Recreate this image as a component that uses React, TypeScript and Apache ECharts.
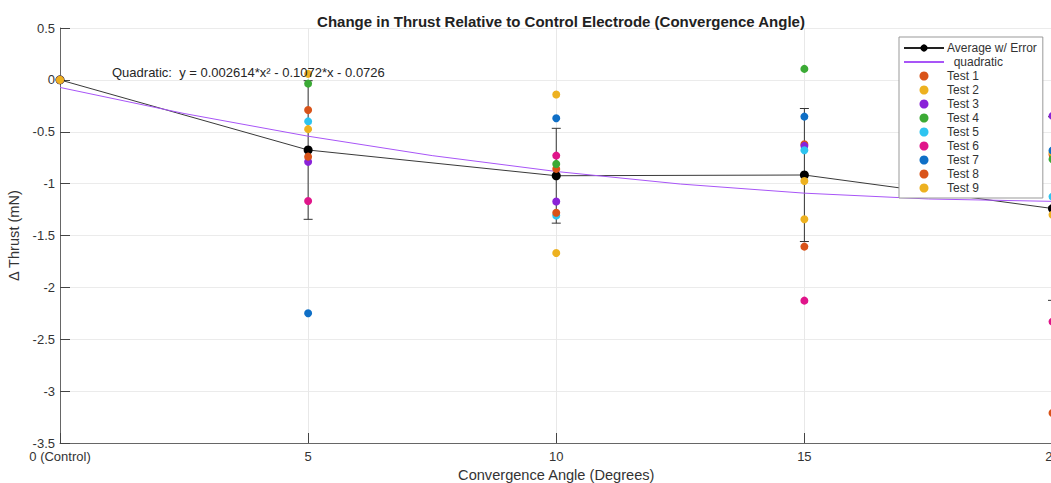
import React, { useEffect, useRef } from "react";
import * as echarts from "echarts";

const angles = [0, 5, 10, 15, 20];
const tickLabels: Record<number, string> = { 0: "0 (Control)", 5: "5", 10: "10", 15: "15", 20: "20" };

const averageValues = [0, -0.676, -0.924, -0.917, -1.24];
const errorValues = [0, 0.668, 0.457, 0.641, 0.885];

// quadratic fit curve
const fitAngles = [0, 2.5, 5, 7.5, 10, 12.5, 15, 17.5, 20];
const fitValues = [-0.073, -0.324, -0.543, -0.730, -0.883, -1.004, -1.092, -1.148, -1.171];

const test1 = [0, -0.29, -0.858, -0.62, -0.72];
const test2 = [0, 0.058, -0.141, -0.974, -0.70];
const test3 = [0, -0.79, -1.173, -0.636, -0.347];
const test4 = [0, -0.036, -0.81, 0.106, -0.765];
const test5 = [0, -0.40, -1.308, -0.678, -1.125];
const test6 = [0, -1.167, -0.73, -2.128, -2.33];
const test7 = [0, -2.25, -0.37, -0.354, -0.68];
const test8 = [0, -0.74, -1.28, -1.607, -3.21];
const test9 = [0, -0.475, -1.668, -1.343, -1.30];

const testNames = ["Test 1", "Test 2", "Test 3", "Test 4", "Test 5", "Test 6", "Test 7", "Test 8", "Test 9"];
const testData = [test1, test2, test3, test4, test5, test6, test7, test8, test9];
const testColors = ["#D95319", "#EDB120", "#8A22D8", "#3BAA35", "#2EC4F0", "#E0158A", "#0F6FC6", "#D95319", "#EDB120"];

const FONT = "'Liberation Sans', Arial, Helvetica, sans-serif";

export default function App() {
  const ref = useRef<HTMLDivElement>(null);
  useEffect(() => {
    if (!ref.current) return;
    const chart = echarts.init(ref.current, undefined, { renderer: "svg" });
    const option: any = {
      animation: false,
      backgroundColor: "#ffffff",
      textStyle: { fontFamily: FONT },
      title: {
        text: "Change in Thrust Relative to Control Electrode (Convergence Angle)",
        left: 556,
        top: 9,
        textAlign: "center",
        textStyle: { fontFamily: FONT, fontSize: 15, fontWeight: "bold", color: "#222" },
      },
      grid: { left: 60, top: 28, right: 17.5, bottom: 40, outerBoundsMode: "none" },
      xAxis: {
        type: "value",
        min: 0,
        max: 20,
        interval: 5,
        name: "Convergence Angle (Degrees)",
        nameLocation: "middle",
        nameGap: 20,
        nameTextStyle: { fontFamily: FONT, fontSize: 14.6, color: "#333" },
        axisLine: { show: true, onZero: false, lineStyle: { color: "#666", width: 1 } },
        axisTick: { show: true, inside: true, length: 10, lineStyle: { color: "#444" } },
        axisLabel: {
          fontFamily: FONT,
          fontSize: 13,
          color: "#333",
          margin: 7,
          formatter: (v: number) => tickLabels[v] ?? String(v),
        },
        splitLine: { show: true, lineStyle: { color: "#e8e8e8", width: 1 } },
      },
      yAxis: {
        type: "value",
        min: -3.5,
        max: 0.5,
        interval: 0.5,
        name: "\u0394 Thrust (mN)",
        nameLocation: "middle",
        nameGap: 35,
        nameTextStyle: { fontFamily: FONT, fontSize: 14.6, color: "#333" },
        axisLine: { show: true, onZero: false, lineStyle: { color: "#666", width: 1 } },
        axisTick: { show: true, inside: true, length: 10, lineStyle: { color: "#444" } },
        axisLabel: { fontFamily: FONT, fontSize: 13, color: "#333", margin: 5 },
        splitLine: { show: true, lineStyle: { color: "#ebebeb", width: 1 } },
      },
      legend: {
        orient: "vertical",
        left: 899,
        top: 37,
        width: 143,
        backgroundColor: "#ffffff",
        borderColor: "#999",
        borderWidth: 1,
        borderRadius: 0,
        padding: [4, 6, 3, 4],
        itemWidth: 40,
        itemHeight: 9,
        itemGap: 0,
        textStyle: { fontFamily: FONT, fontSize: 12, color: "#333", lineHeight: 14, padding: [0, 0, 0, -2] },
        data: [
          { name: "Average w/ Error" },
          { name: "quadratic", itemStyle: { opacity: 0 } },
          ...testNames.map((n) => ({ name: n, icon: "circle" })),
        ],
        formatter: (name: string) => (name === "quadratic" ? "\u00a0\u00a0quadratic" : name),
        z: 20,
      },
      graphic: [
        {
          type: "text",
          left: 112,
          top: 66,
          z: 5,
          style: {
            text: "Quadratic:  y = 0.002614*x\u00b2 - 0.1072*x - 0.0726",
            fontFamily: FONT,
            fontSize: 13,
            fill: "#262626",
          },
        },
      ],
      series: [
        {
          name: "errbars",
          type: "custom",
          z: 2,
          silent: true,
          data: angles.map((a, i) => [a, averageValues[i], errorValues[i]]),
          renderItem: (params: any, api: any) => {
            const x = api.value(0);
            const m = api.value(1);
            const e = api.value(2);
            if (!e) return null;
            const top = api.coord([x, m + e]);
            const bot = api.coord([x, m - e]);
            const half = 4.5;
            const style = { stroke: "#333", lineWidth: 1 };
            return {
              type: "group",
              children: [
                { type: "line", shape: { x1: top[0], y1: top[1], x2: bot[0], y2: bot[1] }, style },
                { type: "line", shape: { x1: top[0] - half, y1: top[1], x2: top[0] + half, y2: top[1] }, style },
                { type: "line", shape: { x1: bot[0] - half, y1: bot[1], x2: bot[0] + half, y2: bot[1] }, style },
              ],
            };
          },
        },
        {
          name: "Average w/ Error",
          type: "line",
          z: 3,
          data: angles.map((a, i) => [a, averageValues[i]]),
          symbol: "circle",
          symbolSize: 9,
          itemStyle: { color: "#000" },
          lineStyle: { color: "#222", width: 0.9 },
        },
        {
          name: "quadratic",
          type: "line",
          z: 3,
          data: fitAngles.map((a, i) => [a, fitValues[i]]),
          symbol: "none",
          itemStyle: { color: "#A855F7" },
          lineStyle: { color: "#A855F7", width: 1 },
        },
        ...testNames.map((n, k) => ({
          name: n,
          type: "scatter",
          z: 4,
          data: angles.map((a, i) => [a, testData[k][i]]),
          symbol: "circle",
          symbolSize: 8,
          itemStyle: { color: testColors[k], opacity: 1 },
        })),
      ],
    };
    chart.setOption(option);
    return () => chart.dispose();
  }, []);
  return (
    <div style={{ position: "fixed", left: 0, top: 0, width: 1051, height: 483, overflow: "hidden", background: "#fff" }}>
      <div ref={ref} style={{ width: 1070, height: 483 }} />
    </div>
  );
}
